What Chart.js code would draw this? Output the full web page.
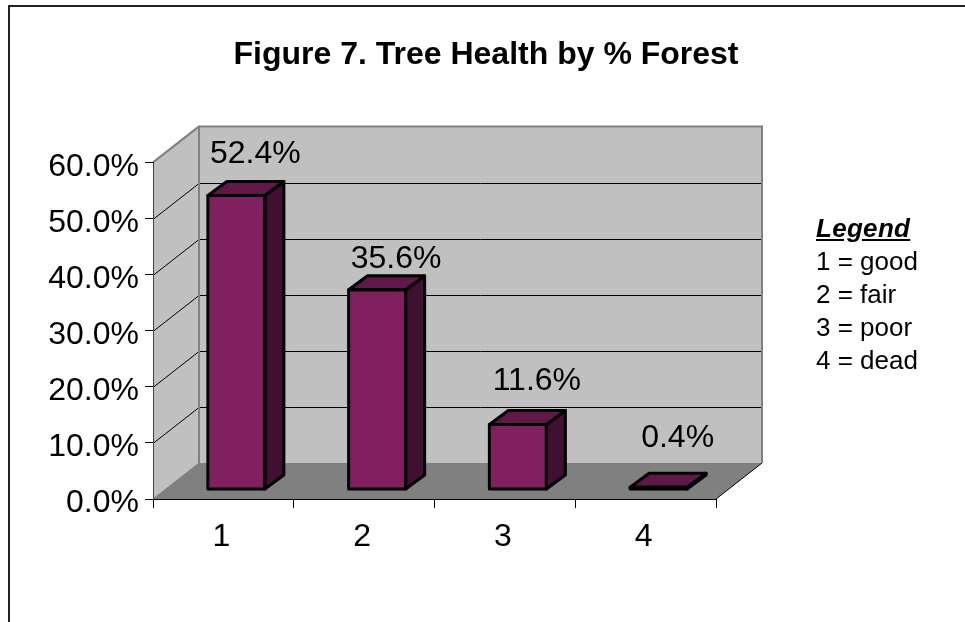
<!DOCTYPE html>
<html><head><meta charset="utf-8">
<script src="https://cdn.jsdelivr.net/npm/chart.js@4"></script>
<style>
html,body{margin:0;padding:0;background:#fff;width:965px;height:622px;overflow:hidden}
#frame{position:absolute;left:8px;top:5px;right:0;bottom:0;border-left:2px solid #222;border-top:2px solid #222}
canvas{position:absolute;left:0;top:0}
#legend{position:absolute;left:816px;top:212px;font:26px/33px "Liberation Sans",Arial,sans-serif;color:#000;white-space:nowrap}
#legend b{font-style:italic;text-decoration:underline;letter-spacing:.3px}
</style></head>
<body>
<div id="frame"></div>
<canvas id="c" width="965" height="622"></canvas>
<div id="legend"><b>Legend</b><br>1 = good<br>2 = fair<br>3 = poor<br>4 = dead</div>
<script>
const categories = ['1','2','3','4'];
const percentForest = [52.4,35.6,11.6,0.4];
const valueTicks = [0,10,20,30,40,50,60];
const titleText = 'Figure 7. Tree Health by % Forest';

const FONT = '"Liberation Sans",Arial,sans-serif';
const wallDepth = {x:46,y:-36};
const barShift = {x:13,y:-9.5};
const barDepth = {x:19,y:-14};
const labelLift = [41,31,43,49];
const tickTextDrop = 4.5;
const categoryTextShift = -2;
const COL = {wall:'#C0C0C0',floor:'#808080',edge:'#808080',front:'#802060',top:'#601848',side:'#401030'};

function poly(ctx,pts,fill,stroke,lw){
  ctx.beginPath();
  pts.forEach((p,i)=>i?ctx.lineTo(p[0],p[1]):ctx.moveTo(p[0],p[1]));
  ctx.closePath();
  if(fill){ctx.fillStyle=fill;ctx.fill();}
  if(stroke){ctx.strokeStyle=stroke;ctx.lineWidth=lw;ctx.lineJoin='round';ctx.stroke();}
}

const box3d = {
  id:'box3d',
  beforeDraw(chart){
    const {ctx,chartArea:a,scales:{x,y}} = chart;
    const yItems=y.getLabelItems();
    if(!yItems._moved){yItems.forEach(it=>{it.options.translation[1]+=tickTextDrop;});yItems._moved=true;}
    const xItems=x.getLabelItems();
    if(!xItems._moved){xItems.forEach(it=>{it.options.translation[0]+=categoryTextShift;});xItems._moved=true;}
    const dx=wallDepth.x, dy=wallDepth.y;
    ctx.save();
    poly(ctx,[[a.left,a.top],[a.left+dx,a.top+dy],[a.left+dx,a.bottom+dy],[a.left,a.bottom]],COL.wall);
    poly(ctx,[[a.left+dx,a.top+dy],[a.right+dx,a.top+dy],[a.right+dx,a.bottom+dy],[a.left+dx,a.bottom+dy]],COL.wall);
    poly(ctx,[[a.left,a.bottom],[a.right,a.bottom],[a.right+dx,a.bottom+dy],[a.left+dx,a.bottom+dy]],COL.floor);
    ctx.strokeStyle='#000';ctx.lineWidth=1;
    valueTicks.forEach(v=>{
      if(v===0||v===60) return;
      const py=Math.round(y.getPixelForValue(v))+0.5;
      ctx.beginPath();ctx.moveTo(a.left,py);ctx.lineTo(a.left+dx,py+dy);ctx.lineTo(a.right+dx,py+dy);ctx.stroke();
    });
    ctx.beginPath();ctx.moveTo(a.left,a.bottom);ctx.lineTo(a.left+dx,a.bottom+dy);ctx.strokeStyle='#808080';ctx.stroke();
    ctx.strokeStyle='#000';
    ctx.beginPath();ctx.moveTo(a.right,a.bottom);ctx.lineTo(a.right+dx,a.bottom+dy);ctx.stroke();
    ctx.strokeStyle=COL.edge;ctx.lineWidth=2;
    ctx.beginPath();ctx.moveTo(a.left,a.top);ctx.lineTo(a.left+dx,a.top+dy);ctx.stroke();
    ctx.beginPath();ctx.moveTo(a.left+dx,a.bottom+dy);ctx.lineTo(a.left+dx,a.top+dy);ctx.lineTo(a.right+dx,a.top+dy);ctx.lineTo(a.right+dx,a.bottom+dy);ctx.stroke();
    ctx.restore();
  },
  beforeDatasetsDraw(chart){
    chart.ctx.save();
    chart.ctx.translate(barShift.x,barShift.y);
  },
  afterDatasetsDraw(chart){
    const ctx=chart.ctx, meta=chart.getDatasetMeta(0);
    const dx=barDepth.x, dy=barDepth.y, K='#000', LW=3;
    meta.data.forEach((b,i)=>{
      const l=b.x-b.width/2, r=b.x+b.width/2, t=b.y, bt=b.base;
      poly(ctx,[[r,t],[r+dx,t+dy],[r+dx,bt+dy],[r,bt]],COL.side,K,LW);
      poly(ctx,[[l,t],[l+dx,t+dy],[r+dx,t+dy],[r,t]],COL.top,K,LW);
      poly(ctx,[[l,t],[r,t],[r,bt],[l,bt]],null,K,LW);
    });
    ctx.restore();
    ctx.save();
    ctx.font='32px '+FONT;ctx.fillStyle='#000';ctx.textAlign='center';ctx.textBaseline='middle';
    meta.data.forEach((b,i)=>{
      ctx.fillText(percentForest[i].toFixed(1)+'%',b.x+barShift.x+19,b.y+barShift.y-labelLift[i]);
    });
    ctx.restore();
  }
};

new Chart(document.getElementById('c'),{
  type:'bar',
  data:{labels:categories,datasets:[{
    data:percentForest,
    backgroundColor:COL.front,
    borderWidth:0,
    yAxisID:'y',
    categoryPercentage:1,
    barPercentage:0.405
  }]},
  options:{
    responsive:false,
    animation:false,
    layout:{padding:{left:7,right:0,top:8,bottom:0}},
    plugins:{
      legend:{display:false},
      tooltip:{enabled:false},
      title:{display:true,text:titleText,color:'#000',
        font:{family:FONT,size:32,weight:'bold',lineHeight:1.2},
        padding:{top:28,bottom:88}}
    },
    scales:{
      x:{
        grid:{offset:true,drawOnChartArea:false,tickLength:9,color:'#000'},
        border:{color:'#000',width:1},
        ticks:{color:'#000',font:{family:FONT,size:32},padding:10,maxRotation:0},
        afterFit(s){s.height=123;}
      },
      y:{
        min:0,max:60,
        grid:{drawOnChartArea:false,tickLength:8,color:'#000'},
        border:{color:'#404040',width:1},
        ticks:{color:'#000',font:{family:FONT,size:32},padding:6,stepSize:10,autoSkip:false,
          callback:v=>v.toFixed(1)+'%'},
        afterFit(s){s.width=146;}
      },
      gutter:{
        position:'right',min:0,max:60,
        grid:{display:false},border:{display:false},ticks:{display:false},
        afterFit(s){s.width=249;}
      }
    }
  },
  plugins:[box3d]
});
</script>
</body></html>
